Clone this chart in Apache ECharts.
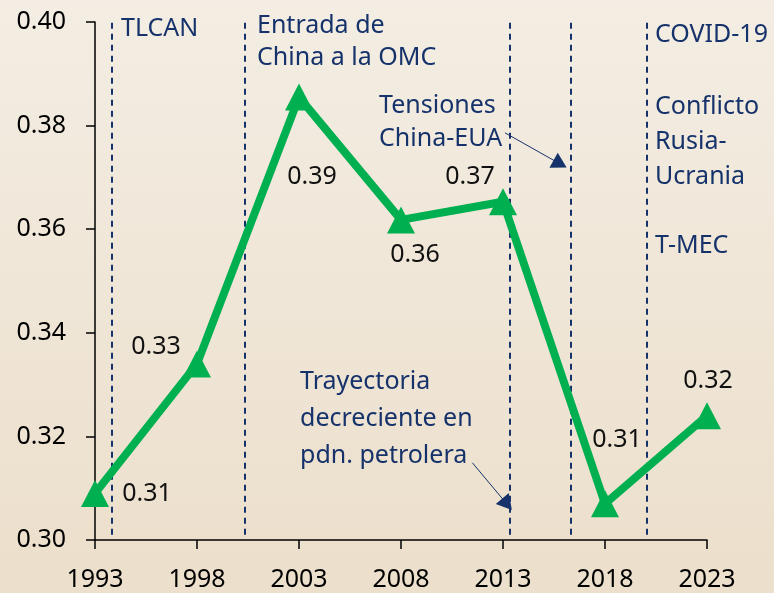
<!DOCTYPE html>
<html lang="es">
<head>
    <meta charset="UTF-8">
    <title>Indicador 1993-2023</title>
    <script type="text/javascript" src="https://cdn.jsdelivr.net/npm/echarts@6/dist/echarts.min.js"></script>
    <style>
        html, body { margin: 0; padding: 0; }
        #chart { width: 774px; height: 593px; background: linear-gradient(#f3ede3, #ecdfcb); }
    </style>
</head>
<body>
<div id="chart"></div>
<script type="text/javascript">
    // datos
    var years = [1993, 1998, 2003, 2008, 2013, 2018, 2023];
    var values = [0.309, 0.334, 0.3855, 0.3618, 0.3653, 0.307, 0.324];
    var yTicks = { min: 0.30, max: 0.40, step: 0.02 };
    // lineas de eventos (año aproximado)
    var eventYears = [1993.83, 2000.35, 2013.34, 2016.33, 2020.04];
    // flechas: [año, valor] inicio -> fin
    var arrows = [
        [[2013.1, 0.3786], [2015.8, 0.3726]],
        [[2011.5, 0.3149], [2013.2, 0.3069]]
    ];

    var base = years[0];
    var navy = '#16326b';
    var font = '"Noto Sans", "DejaVu Sans", sans-serif';

    // desplazamiento de etiquetas respecto al punto
    var labelOffsets = [[52, 0], [-41, -17], [13, 80], [14, 35], [-33, -25], [12, -64], [1, -35]];

    var seriesData = years.map(function (y, i) {
        return {
            value: [y - base, values[i]],
            label: { offset: labelOffsets[i] }
        };
    });

    var vlines = eventYears.map(function (y) {
        return [{ coord: [y - base, 0.301] }, { coord: [y - base, yTicks.max] }];
    });
    var arrowLines = arrows.map(function (a) {
        return [{ coord: [a[0][0] - base, a[0][1]] }, { coord: [a[1][0] - base, a[1][1]] }];
    });

    function txt(text, x, y, lh) {
        return {
            type: 'text', left: x, top: y, z: 10,
            style: { text: text, fill: navy, font: '25px ' + font, lineHeight: lh || 33 }
        };
    }

    var chart = echarts.init(document.getElementById('chart'));
    chart.setOption({
        animation: false,
        textStyle: { fontFamily: font },
        grid: { left: 95, right: 67, top: 22, bottom: 53 },
        xAxis: {
            type: 'value', min: 0, max: years[years.length - 1] - base, interval: 5,
            splitLine: { show: false },
            axisLine: { lineStyle: { color: '#000', width: 1.5 } },
            axisTick: { show: true, length: 9, lineStyle: { color: '#000', width: 1.5 } },
            axisLabel: {
                color: '#000', fontSize: 25, margin: 27,
                formatter: function (v) { return String(v + base); }
            }
        },
        yAxis: {
            type: 'value', min: yTicks.min, max: yTicks.max, interval: yTicks.step,
            splitLine: { show: false },
            axisLine: { show: true, lineStyle: { color: '#000', width: 1.5 } },
            axisTick: { show: true, length: 9, lineStyle: { color: '#000', width: 1.5 } },
            axisLabel: {
                color: '#000', fontSize: 25, margin: 29,
                formatter: function (v) { return v.toFixed(2); }
            }
        },
        series: [
            {
                type: 'line', z: 3,
                data: [],
                markLine: {
                    silent: true, symbol: ['none', 'none'], animation: false,
                    label: { show: false },
                    lineStyle: { color: navy, width: 2, type: [6, 5] },
                    data: vlines
                }
            },
            {
                type: 'line', z: 3,
                data: [],
                markLine: {
                    silent: true, symbol: ['none', 'triangle'], symbolSize: [17, 15], animation: false,
                    label: { show: false },
                    lineStyle: { color: navy, width: 1, type: 'solid' },
                    itemStyle: { color: navy },
                    data: arrowLines
                }
            },
            {
                type: 'line', z: 5,
                data: seriesData,
                symbol: 'triangle', symbolSize: [28, 27],
                lineStyle: { color: '#00b050', width: 8 },
                itemStyle: { color: '#00b050' },
                label: {
                    show: true, position: 'inside', color: '#111', fontSize: 25,
                    align: 'center', verticalAlign: 'middle',
                    formatter: function (p) { return p.value[1].toFixed(2); }
                }
            }
        ],
        graphic: [
            txt('TLCAN', 121, 12),
            txt('Entrada de\nChina a la OMC', 257, 10, 32),
            txt('Tensiones\nChina-EUA', 379, 89, 33),
            txt('COVID-19', 655, 18),
            txt('Conflicto\nRusia-\nUcrania', 655, 89, 35),
            txt('T-MEC', 655, 229),
            txt('Trayectoria\ndecreciente en\npdn. petrolera', 300, 363, 37)
        ]
    });
</script>
</body>
</html>
